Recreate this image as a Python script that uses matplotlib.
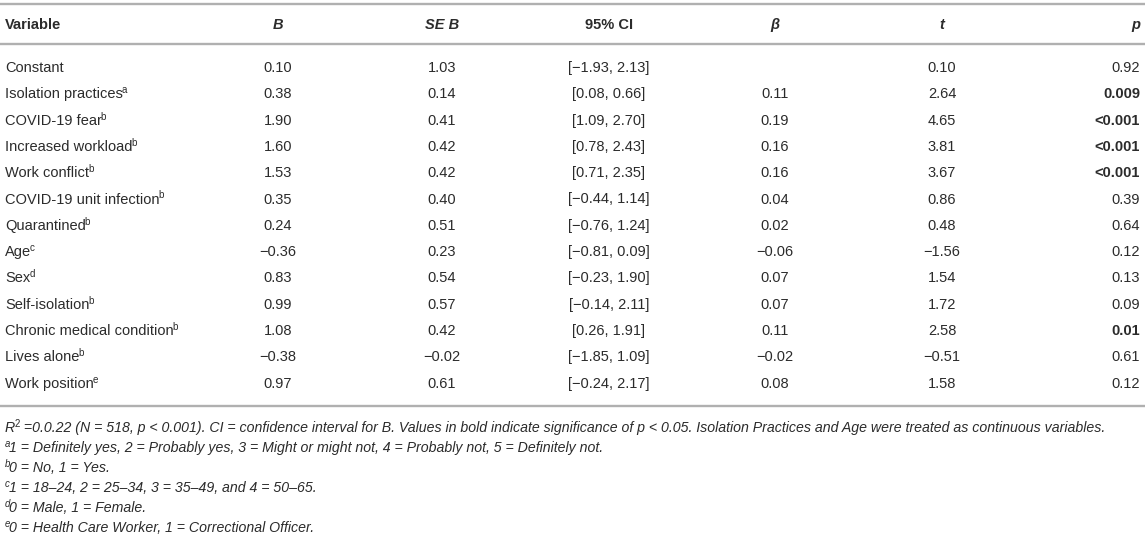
import matplotlib
matplotlib.use("Agg")
import matplotlib.pyplot as plt

plt.rcParams['font.family'] = ['Liberation Sans', 'DejaVu Sans']

# table content
variables = ['Constant', 'Isolation practices', 'COVID-19 fear', 'Increased workload',
             'Work conflict', 'COVID-19 unit infection', 'Quarantined', 'Age', 'Sex',
             'Self-isolation', 'Chronic medical condition', 'Lives alone', 'Work position']
sups = ['', 'a', 'b', 'b', 'b', 'b', 'b', 'c', 'd', 'b', 'b', 'b', 'e']
B = [0.10, 0.38, 1.90, 1.60, 1.53, 0.35, 0.24, -0.36, 0.83, 0.99, 1.08, -0.38, 0.97]
SE_B = [1.03, 0.14, 0.41, 0.42, 0.42, 0.40, 0.51, 0.23, 0.54, 0.57, 0.42, -0.02, 0.61]
ci_low = [-1.93, 0.08, 1.09, 0.78, 0.71, -0.44, -0.76, -0.81, -0.23, -0.14, 0.26, -1.85, -0.24]
ci_high = [2.13, 0.66, 2.70, 2.43, 2.35, 1.14, 1.24, 0.09, 1.90, 2.11, 1.91, 1.09, 2.17]
beta = [None, 0.11, 0.19, 0.16, 0.16, 0.04, 0.02, -0.06, 0.07, 0.07, 0.11, -0.02, 0.08]
t_vals = [0.10, 2.64, 4.65, 3.81, 3.67, 0.86, 0.48, -1.56, 1.54, 1.72, 2.58, -0.51, 1.58]
p_vals = ['0.92', '0.009', '<0.001', '<0.001', '<0.001', '0.39', '0.64', '0.12', '0.13',
          '0.09', '0.01', '0.61', '0.12']

# footnotes as (prefix, superscript, rest)
footnotes = [
    ('R', '2', ' =0.0.22 (N = 518, p < 0.001). CI = confidence interval for B. Values in bold indicate significance of p < 0.05. Isolation Practices and Age were treated as continuous variables.'),
    ('', 'a', '1 = Definitely yes, 2 = Probably yes, 3 = Might or might not, 4 = Probably not, 5 = Definitely not.'),
    ('', 'b', '0 = No, 1 = Yes.'),
    ('', 'c', '1 = 18–24, 2 = 25–34, 3 = 35–49, and 4 = 50–65.'),
    ('', 'd', '0 = Male, 1 = Female.'),
    ('', 'e', '0 = Health Care Worker, 1 = Correctional Officer.'),
]


def fmt(v):
    if v is None:
        return ''
    return f'{v:.2f}'.replace('-', '−')


fig = plt.figure(figsize=(11.45, 5.37), dpi=100)
ax = fig.add_axes([0, 0, 1, 1])
ax.set_xlim(0, 1145)
ax.set_ylim(537, 0)
ax.axis('off')
renderer = fig.canvas.get_renderer()

txt = '#2b2b2b'
line_c = '#b0b0b0'
fs = 10.5
base = 5  # baseline offset below row centre, in pixels


def right_edge(t):
    bb = t.get_window_extent(renderer=renderer)
    return ax.transData.inverted().transform((bb.x1, bb.y0))[0]


def put(x, y, s, size, **kw):
    t = ax.text(x, y, s, fontsize=size, color=txt, va='baseline', **kw)
    return right_edge(t) if s else x


# column centres
col_x = [278, 442, 609, 775, 942]
p_right = 1140

# rules
for y in [4, 44, 406]:
    ax.plot([0, 1145], [y, y], color=line_c, lw=1.7, solid_capstyle='butt')

# header
hy = 24 + base
ax.text(5, hy, 'Variable', fontsize=fs, fontweight='bold', color=txt, va='baseline')
heads = ['B', 'SE B', '95% CI', 'β', 't']
for x, h in zip(col_x, heads):
    st = 'normal' if h == '95% CI' else 'italic'
    ax.text(x, hy, h, fontsize=fs, fontweight='bold', style=st, color=txt,
            ha='center', va='baseline')
ax.text(p_right, hy, 'p', fontsize=fs, fontweight='bold', style='italic', color=txt,
        ha='right', va='baseline')

# rows
y0, dy = 67, 26.3
for i, name in enumerate(variables):
    y = y0 + i * dy + base
    xe = put(5, y, name, fs)
    if sups[i]:
        put(xe - 1, y - 5, sups[i], fs * 0.68)
    ci = '[' + fmt(ci_low[i]) + ', ' + fmt(ci_high[i]) + ']'
    cells = [fmt(B[i]), fmt(SE_B[i]), ci, fmt(beta[i]), fmt(t_vals[i])]
    for x, c in zip(col_x, cells):
        ax.text(x, y, c, fontsize=fs, color=txt, ha='center', va='baseline')
    p = p_vals[i]
    sig = p.startswith('<') or float(p) < 0.05
    ax.text(p_right, y, p, fontsize=fs, color=txt, ha='right', va='baseline',
            fontweight='bold' if sig else 'normal')

# footnotes
fy0, fdy = 427, 20
ffs = 10.2
for j, (pre, sup, rest) in enumerate(footnotes):
    y = fy0 + j * fdy + base
    xe = put(5, y, pre, ffs, style='italic')
    xe = put(xe - 0.5, y - 5, sup, ffs * 0.68, style='italic' if pre == '' else 'normal')
    put(xe - 0.5, y, rest, ffs, style='italic')

fig.savefig('out.png', dpi=100, facecolor='white')
